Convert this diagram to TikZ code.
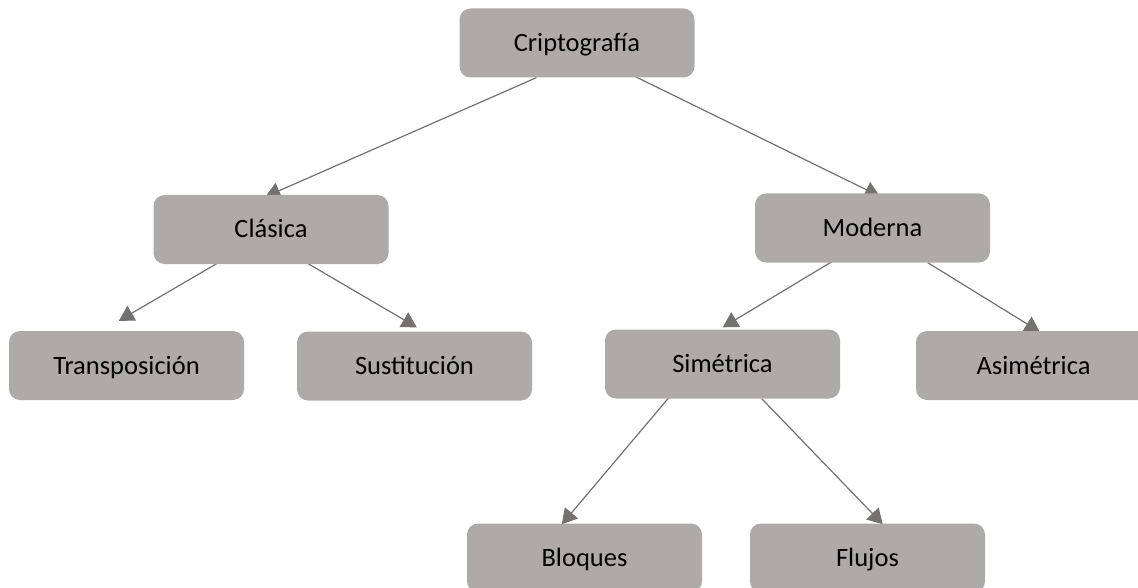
\documentclass[tikz,border=0pt]{standalone}
\usepackage{fontspec}
\newfontfamily\carlito{Carlito}
\usetikzlibrary{arrows.meta,calc}
\definecolor{boxgray}{HTML}{AEAAAA}
\definecolor{linkgray}{HTML}{767171}
\pgfdeclarelayer{background}
\pgfsetlayers{background,main}
\tikzset{
  box/.style={rectangle, rounded corners=11, fill=boxgray, text=black,
    minimum width=235, minimum height=69, inner sep=0,
    text height=19pt, text depth=2pt,
    font=\carlito\fontsize{26.5}{30}\selectfont},
  link/.style={draw=linkgray, line width=1.2pt,
    -{Triangle[length=15pt,width=17pt]}, fill=linkgray}
}
\begin{document}
\begin{tikzpicture}[x=1pt,y=-1pt]
  \clip (0,0) rectangle (1138,588);
  \useasboundingbox (0,0) rectangle (1138,588);

  % tree of boxes
  \node[box] (cripto)  at (577,43)      {Criptografía};
  \node[box] (clasica) at (271,229.5)   {Clásica};
  \node[box] (moderna) at (872.5,228)   {Moderna};
  \node[box] (trans)   at (126.5,365.5) {Transposición};
  \node[box] (sust)    at (414.5,366)   {Sustitución};
  \node[box] (sim)     at (722.5,364)   {Simétrica};
  \node[box] (asim)    at (1033.5,365.5){Asimétrica};
  \node[box] (bloques) at (584.5,558)   {Bloques};
  \node[box] (flujos)  at (867.5,558)   {Flujos};

  % connectors sit behind the boxes
  \begin{pgfonlayer}{background}
    \draw[link] ($(cripto.south west)+(77,0)$)   -- ($(clasica.north west)+(112,2)$);
    \draw[link] ($(cripto.south west)+(168,-5)$) -- ($(moderna.north west)+(125,3)$);
    \draw[link] ($(clasica.south west)+(71,-5)$) -- ($(trans.north west)+(110,-10)$);
    \draw[link] ($(clasica.south west)+(154,-1)$) -- ($(sust.north west)+(120,-4)$);
    \draw[link] ($(moderna.south west)+(82,-4)$) -- ($(sim.north west)+(118,-2)$);
    \draw[link] ($(moderna.south west)+(173,0)$) -- ($(asim.north west)+(124,1)$);
    \draw[link] ($(sim.south west)+(64,-1)$)     -- ($(bloques.north west)+(95,1)$);
    \draw[link] ($(sim.south west)+(157,0)$)     -- ($(flujos.north west)+(133,1)$);
  \end{pgfonlayer}
\end{tikzpicture}
\end{document}
